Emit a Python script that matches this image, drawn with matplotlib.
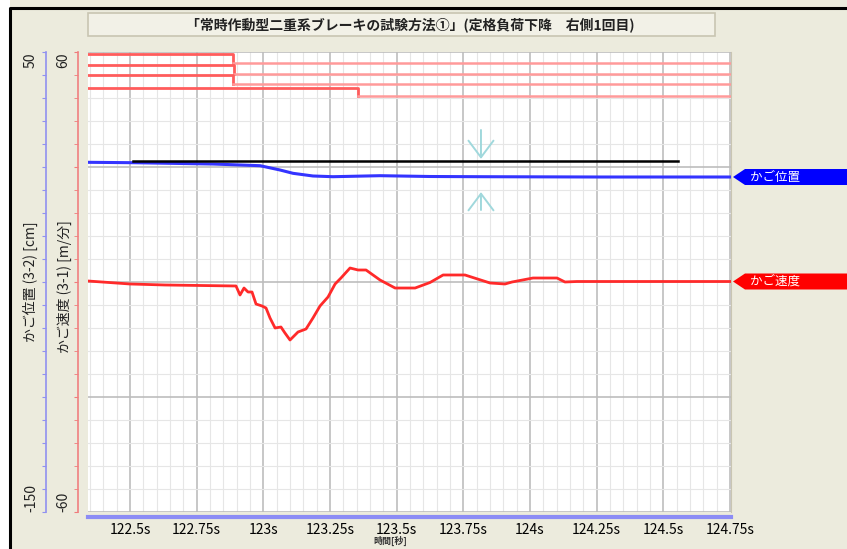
import matplotlib.pyplot as plt
from matplotlib.patches import Rectangle, Polygon
from matplotlib.lines import Line2D

plt.rcParams['font.family'] = ['Noto Sans CJK JP', 'DejaVu Sans']

# --- data ---
# car speed (red axis, m/min)
speed_t = [122.3425, 122.5, 122.631, 122.7625, 122.8975, 122.9125, 122.9275, 122.9425,
           122.9575, 122.9725, 122.995, 123.01, 123.025, 123.044, 123.066, 123.081,
           123.1, 123.13, 123.16, 123.186, 123.2125, 123.2425, 123.269, 123.291,
           123.325, 123.355, 123.385, 123.4375, 123.494, 123.569, 123.625, 123.674,
           123.756, 123.85, 123.906, 123.9325, 124.011, 124.101, 124.131, 124.176,
           124.45, 124.7535]
speed_v = [0.26, -0.52, -0.78, -0.91, -1.04, -3.39, -1.57, -2.61,
           -2.61, -5.74, -6.26, -6.78, -9.39, -12.0, -11.74, -13.3,
           -15.13, -13.04, -12.26, -9.39, -6.26, -3.91, -0.52, 1.04,
           3.65, 3.13, 3.13, 0.52, -1.57, -1.57, -0.13, 1.83,
           1.83, -0.26, -0.52, 0.0, 1.04, 1.04, 0.0, 0.13,
           0.13, 0.13]

# car position (blue axis, cm)
pos_t = [122.3425, 122.511, 122.811, 122.9875, 123.0625, 123.111, 123.186,
         123.261, 123.4375, 123.625, 123.82, 124.2625, 124.7535]
pos_v = [2.04, 1.87, 1.30, 0.57, -1.30, -2.74, -3.91,
         -4.22, -3.78, -4.13, -4.22, -4.35, -4.35]

# brake signals (drawn on red axis scale): high level, low level, switch time
sig_hi = [59.5, 56.6, 54.0, 50.6]
sig_lo = [57.1, 54.3, 51.6, 48.5]
sig_switch = [122.886, 122.89, 122.886, 123.355]

# reference line and arrows (blue axis)
ref_t = [122.511, 124.555]
ref_v = 2.7
arrow_t = 123.816
arrow_down = (16.1, 3.5)
arrow_up = (-18.7, -10.9)

x_ticks = [122.5, 122.75, 123.0, 123.25, 123.5, 123.75, 124.0, 124.25, 124.5, 124.75]
x_labels = ['122.5s', '122.75s', '123s', '123.25s', '123.5s', '123.75s',
            '124s', '124.25s', '124.5s', '124.75s']
x_range = (122.3425, 124.7535)
speed_range = (-60, 60)
pos_range = (-150, 50)

title = '「常時作動型二重系ブレーキの試験方法①」(定格負荷下降　右側1回目)'
speed_label = 'かご速度 (3-1) [m/分]'
pos_label = 'かご位置 (3-2) [cm]'

W, H = 847, 549


def px(x, y):
    return (x / W, 1 - y / H)


fig = plt.figure(figsize=(W / 100, H / 100), dpi=100, facecolor='white')

# window background and frame
fig.patches.append(Rectangle(px(10, 600), 2, 2, transform=fig.transFigure,
                             facecolor='#ECEBDD', edgecolor='none', zorder=-5))
fig.lines.append(Line2D([10 / W, 10 / W, 1.0], [0, 1 - 8 / H, 1 - 8 / H],
                        transform=fig.transFigure, color='black', lw=2.2,
                        zorder=-4))
# title box
fig.patches.append(Rectangle(px(88, 36), (715 - 88) / W, 23 / H,
                             transform=fig.transFigure, facecolor='#F2F1E7',
                             edgecolor='#C9C5B2', lw=1.2, zorder=-4))
fig.text(410 / W, 1 - 24.5 / H, title, ha='center', va='center',
         fontsize=10, fontweight='bold', color='#222222')

ax = fig.add_axes([88 / W, 37 / H, 643 / W, 460 / H])
ax.set_facecolor('white')
ax.set_xlim(*x_range)
ax.set_ylim(*speed_range)

ax.set_xticks(x_ticks)
ax.set_xticklabels(x_labels, fontsize=7.8, color='#333333')
ax.set_xticks([x_ticks[0] + 0.05 * i for i in range(-3, 46)], minor=True)
ax.tick_params(axis='x', which='both', length=0, pad=4)
ax.set_yticks([-60, -30, 0, 30, 60])
ax.set_yticks(list(range(-60, 61, 6)), minor=True)
ax.tick_params(axis='y', which='both', length=3, color='#F07A7A',
               labelleft=False)

ax.grid(which='major', color='#BDBDBD', lw=1.2, zorder=0)
ax.grid(which='minor', color='#E6E6E6', lw=0.8, zorder=0)
ax.set_axisbelow(True)

ax.spines['top'].set_visible(False)
ax.spines['right'].set_color('#C9C5B2')
ax.spines['left'].set_position(('outward', 7.2))
ax.spines['left'].set_color('#F08080')
ax.spines['left'].set_linewidth(1.2)
ax.spines['bottom'].set_position(('outward', 3.6))
ax.spines['bottom'].set_color('#8C8CF5')
ax.spines['bottom'].set_linewidth(3)

ax.set_ylabel(speed_label, fontsize=10, color='#222222')
ax.yaxis.set_label_coords(-0.025, 0.49)
ax.set_xlabel('時間[秒]', fontsize=6.5, fontweight='bold', color='#333333')
ax.xaxis.set_label_coords(0.4697, -0.052)

# brake signals
for hi, lo, ts in zip(sig_hi, sig_lo, sig_switch):
    ax.plot([x_range[0], ts, ts], [hi, hi, lo], color='#FF5C5C', lw=2, zorder=3)
    ax.plot([ts, x_range[1]], [lo, lo], color='#FF9A9A', lw=1.8, zorder=3)

ax.plot(speed_t, speed_v, color='#FF2A2A', lw=2, zorder=4)

# position axis
ax_b = ax.twinx()
ax_b.set_ylim(*pos_range)
ax_b.yaxis.set_ticks_position('left')
ax_b.yaxis.set_label_position('left')
for s in ['top', 'right', 'bottom']:
    ax_b.spines[s].set_visible(False)
ax_b.spines['left'].set_visible(True)
ax_b.spines['left'].set_position(('outward', 30.2))
ax_b.spines['left'].set_color('#9090F0')
ax_b.spines['left'].set_linewidth(1.2)
ax_b.set_yticks(list(range(-150, 51, 10)))
ax_b.tick_params(axis='y', length=3, color='#9090F0', labelleft=False)
ax_b.set_ylabel(pos_label, fontsize=10, color='#222222')
ax_b.yaxis.set_label_coords(-0.078, 0.5)

# end labels of both value axes, rotated like the original
for a, rng, off in [(ax, speed_range, -12.5), (ax_b, pos_range, -36)]:
    for val, va in [(rng[1], 'top'), (rng[0], 'bottom')]:
        a.annotate(str(val), xy=(0, val), xycoords=('axes fraction', 'data'),
                   xytext=(off, 0), textcoords='offset points', rotation=90,
                   ha='right', va=va, fontsize=10, color='#222222',
                   annotation_clip=False)

ax_b.plot(pos_t, pos_v, color='#3434FF', lw=2.2, zorder=4)
ax_b.plot(ref_t, [ref_v, ref_v], color='black', lw=1.8, zorder=5)
arrow_style = dict(arrowstyle='->,head_length=1.2,head_width=0.9',
                   color='#A0D8DC', lw=1.4, shrinkA=0, shrinkB=0)
ax_b.annotate('', xy=(arrow_t, arrow_down[1]), xytext=(arrow_t, arrow_down[0]),
              arrowprops=arrow_style)
ax_b.annotate('', xy=(arrow_t, arrow_up[1]), xytext=(arrow_t, arrow_up[0]),
              arrowprops=arrow_style)

# end-of-line tags
tags = [(ax_b, pos_v[-1], '#0000FF', 'かご位置'),
        (ax, speed_v[-1], '#FF0000', 'かご速度')]
for a, v, col, txt in tags:
    yd = a.transData.transform((x_range[1], v))[1]
    yc = H - yd
    poly = Polygon([px(733, yc), px(745, yc - 8), px(W + 5, yc - 8),
                    px(W + 5, yc + 8), px(745, yc + 8)], closed=True,
                   transform=fig.transFigure, facecolor=col, edgecolor='none')
    fig.patches.append(poly)
    fig.text(750 / W, 1 - yc / H, txt, ha='left', va='center', fontsize=9,
             color='white')

fig.savefig('out.png', dpi=100, facecolor=fig.get_facecolor())
